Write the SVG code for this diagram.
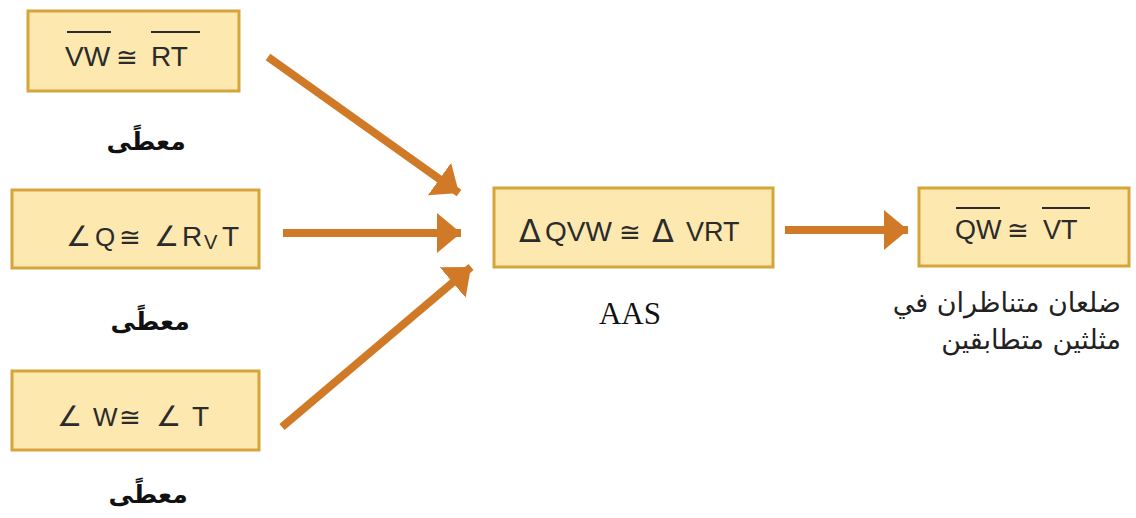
<svg xmlns="http://www.w3.org/2000/svg" width="1136" height="518" viewBox="0 0 1136 518">
  <style>
    .box { fill: #FDE8B0; stroke: #D6A53A; stroke-width: 3; }
    .math { font-family: "Liberation Sans", Arial, sans-serif; font-size: 28px; fill: #2b2b2b; }
    .cong { font-family: "DejaVu Sans", sans-serif; font-size: 26px; fill: #2b2b2b; }
    .delta { font-family: "DejaVu Sans", sans-serif; font-size: 32px; fill: #2b2b2b; }
    .bar { stroke: #2b2b2b; stroke-width: 2; }
    .given { font-family: "DejaVu Sans", "Noto Sans", sans-serif; font-size: 25px; fill: #111; font-weight: bold; }
    .note { font-family: "DejaVu Sans", "Noto Sans", sans-serif; font-size: 27px; fill: #222; }
    .rule { font-family: "Liberation Serif", "Times New Roman", serif; font-size: 31px; fill: #111; }
    .arrow { stroke: #D07A28; stroke-width: 8; fill: none; marker-end: url(#head); }
  </style>
  <defs>
    <marker id="head" markerUnits="userSpaceOnUse" markerWidth="26" markerHeight="42" refX="24" refY="20" orient="auto">
      <path d="M0,0 L24,20 L0,40 Z" fill="#D07A28"/>
    </marker>
  </defs>

  <rect width="1136" height="518" fill="#ffffff"/>

  <!-- given: segment VW congruent to RT -->
  <g id="node-vw-rt">
    <rect class="box" x="28" y="11" width="211" height="80"/>
    <text class="math" x="65" y="66">VW</text>
    <text class="cong" x="116" y="66">≅</text>
    <text class="math" x="151" y="66">RT</text>
    <line class="bar" x1="67" y1="32" x2="111" y2="32"/>
    <line class="bar" x1="151" y1="32" x2="200" y2="32"/>
    <text class="given" x="146" y="150" text-anchor="middle">معطًى</text>
  </g>

  <!-- given: angle Q congruent to angle RVT -->
  <g id="node-angle-q">
    <rect class="box" x="12" y="190" width="247" height="78"/>
    <text class="math" x="66" y="246">∠</text>
    <text class="math" x="95" y="246" style="font-size:26px">Q</text>
    <text class="cong" x="119" y="246">≅</text>
    <text class="math" x="154" y="246">∠</text>
    <text class="math" x="182" y="246">R</text>
    <text class="math" x="204" y="249" style="font-size:20px">V</text>
    <text class="math" x="222" y="246">T</text>
    <text class="given" x="150" y="330" text-anchor="middle">معطًى</text>
  </g>

  <!-- given: angle W congruent to angle T -->
  <g id="node-angle-w">
    <rect class="box" x="12" y="371" width="247" height="79"/>
    <text class="math" x="57" y="426">∠</text>
    <text class="math" x="93" y="426" style="font-size:26px">W</text>
    <text class="cong" x="119" y="426">≅</text>
    <text class="math" x="156" y="426">∠</text>
    <text class="math" x="192" y="426">T</text>
    <text class="given" x="148" y="503" text-anchor="middle">معطًى</text>
  </g>

  <!-- conclusion: triangle QVW congruent to triangle VRT -->
  <g id="node-triangles">
    <rect class="box" x="494" y="188" width="279" height="79"/>
    <text class="delta" x="519" y="242">Δ</text>
    <text class="math" x="545" y="241">QVW</text>
    <text class="cong" x="619" y="241">≅</text>
    <text class="delta" x="652" y="242">Δ</text>
    <text class="math" x="686" y="241" style="font-size:27px">VRT</text>
    <text class="rule" x="630" y="324" text-anchor="middle">AAS</text>
  </g>

  <!-- result: QW congruent to VT -->
  <g id="node-qw-vt">
    <rect class="box" x="919" y="188" width="210" height="78"/>
    <text class="math" x="955" y="239" style="font-size:27px">QW</text>
    <text class="cong" x="1007" y="239">≅</text>
    <text class="math" x="1043" y="239" style="font-size:27px">VT</text>
    <line class="bar" x1="956" y1="208" x2="1000" y2="208"/>
    <line class="bar" x1="1042" y1="208" x2="1090" y2="208"/>
    <text class="note" x="1121" y="312" text-anchor="end">ضلعان متناظران في</text>
    <text class="note" x="1121" y="349" text-anchor="end">مثلثين متطابقين</text>
  </g>

  <g id="connectors">
    <line class="arrow" x1="268" y1="57" x2="459" y2="193"/>
    <line class="arrow" x1="283" y1="233" x2="461" y2="233"/>
    <line class="arrow" x1="282" y1="427" x2="471" y2="267"/>
    <line class="arrow" x1="785" y1="230" x2="908" y2="230"/>
  </g>
</svg>
